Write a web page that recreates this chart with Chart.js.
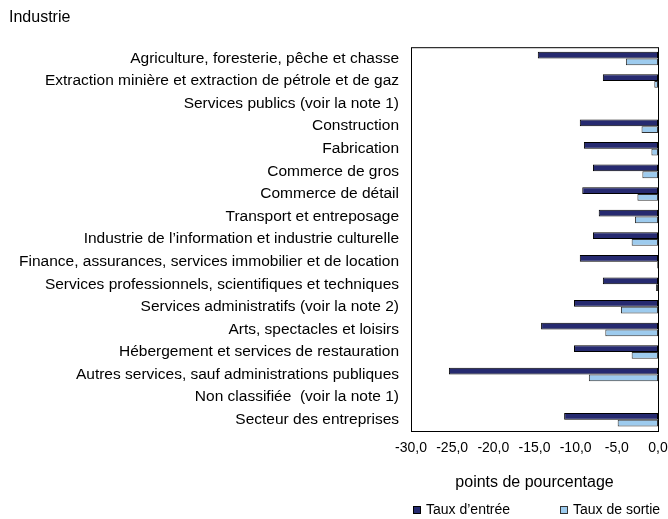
<!DOCTYPE html>
<html>
<head>
<meta charset="utf-8">
<script src="https://cdn.jsdelivr.net/npm/chart.js@4/dist/chart.umd.min.js"></script>
<style>
  html, body { margin: 0; padding: 0; background: #fff; }
  #wrap { width: 668px; height: 519px; }
</style>
</head>
<body>
<div id="wrap"><canvas id="chart"></canvas></div>
<script>
const industries = [
  'Agriculture, foresterie, pêche et chasse',
  'Extraction minière et extraction de pétrole et de gaz',
  'Services publics (voir la note 1)',
  'Construction',
  'Fabrication',
  'Commerce de gros',
  'Commerce de détail',
  'Transport et entreposage',
  'Industrie de l\u2019information et industrie culturelle',
  'Finance, assurances, services immobilier et de location',
  'Services professionnels, scientifiques et techniques',
  'Services administratifs (voir la note 2)',
  'Arts, spectacles et loisirs',
  'Hébergement et services de restauration',
  'Autres services, sauf administrations publiques',
  'Non classifiée  (voir la note 1)',
  'Secteur des entreprises'
];

// taux d'entrée / taux de sortie, en points de pourcentage
const tauxEntree = [-14.6, -6.7, null, -9.5, -9.0, -7.9, -9.2, -7.2, -7.9, -9.5, -6.7, -10.2, -14.2, -10.2, -25.4, null, -11.4];
const tauxSortie = [-3.9, -0.45, null, -2.0, -0.8, -1.9, -2.5, -2.8, -3.2, -0.1, -0.25, -4.5, -6.4, -3.2, -8.4, null, -4.9];

const FONT = '"Liberation Sans", Arial, sans-serif';
Chart.defaults.font.family = FONT;
Chart.defaults.color = '#000';

const ENTREE_COLOR = '#262a70';
const SORTIE_COLOR = '#9dcbee';

// cadre autour de la zone de tracé
const frame = {
  id: 'frame',
  afterDatasetsDraw(chart) {
    const a = chart.chartArea, c = chart.ctx;
    c.save();
    c.strokeStyle = '#000';
    c.lineWidth = 1;
    c.strokeRect(a.left + 0.5, a.top + 0.5, a.right - a.left, a.bottom - a.top);
    c.restore();
  }
};

// légende maison, sous le titre de l'axe
const customLegend = {
  id: 'customLegend',
  afterDraw(chart) {
    const c = chart.ctx, a = chart.chartArea;
    const y = chart.height - 9;
    const items = [
      { x: a.left + 2, fill: ENTREE_COLOR, stroke: '#000' },
      { x: a.left + 149, fill: SORTIE_COLOR, stroke: '#333' }
    ];
    c.save();
    c.font = '14px ' + FONT;
    c.textBaseline = 'middle';
    chart.data.datasets.forEach((ds, i) => {
      const it = items[i];
      c.fillStyle = it.fill;
      c.fillRect(it.x, y - 4, 8, 8);
      c.strokeStyle = it.stroke;
      c.lineWidth = 1;
      c.strokeRect(it.x + 0.5, y - 3.5, 7, 7);
      c.fillStyle = '#000';
      c.fillText(ds.label, it.x + 13, y);
    });
    c.restore();
  }
};

new Chart(document.getElementById('chart'), {
  type: 'bar',
  data: {
    labels: industries,
    datasets: [{
      label: 'Taux d\u2019entrée',
      data: tauxEntree,
      backgroundColor: ENTREE_COLOR,
      borderColor: '#000',
      borderWidth: 1,
      borderSkipped: false
    }, {
      label: 'Taux de sortie',
      data: tauxSortie,
      backgroundColor: SORTIE_COLOR,
      borderColor: '#333',
      borderWidth: 1,
      borderSkipped: false
    }]
  },
  plugins: [frame, customLegend],
  options: {
    indexAxis: 'y',
    responsive: true,
    maintainAspectRatio: false,
    animation: false,
    layout: { padding: { left: 9, right: 0, top: 0, bottom: 27 } },
    datasets: { bar: { categoryPercentage: 0.6, barPercentage: 1 } },
    scales: {
      x: {
        min: -30,
        max: 0,
        grid: { display: false, drawTicks: false },
        border: { display: false },
        afterFit(scale) { scale.paddingRight = 10; },
        ticks: {
          stepSize: 5,
          padding: 9,
          font: { size: 14 },
          callback: v => v.toFixed(1).replace('.', ',')
        },
        title: { display: true, text: 'points de pourcentage', font: { size: 16 }, padding: { top: 7, bottom: 0 } }
      },
      y: {
        grid: { display: false, drawTicks: false },
        border: { display: false },
        afterFit(scale) { scale.width = 402; },
        ticks: { padding: 12, font: { size: 15.5 }, autoSkip: false }
      }
    },
    plugins: {
      title: {
        display: true,
        text: 'Industrie',
        align: 'start',
        font: { size: 16, weight: 'normal' },
        padding: { top: 8, bottom: 20 }
      },
      legend: { display: false },
      tooltip: { enabled: false }
    }
  }
});
</script>
</body>
</html>
